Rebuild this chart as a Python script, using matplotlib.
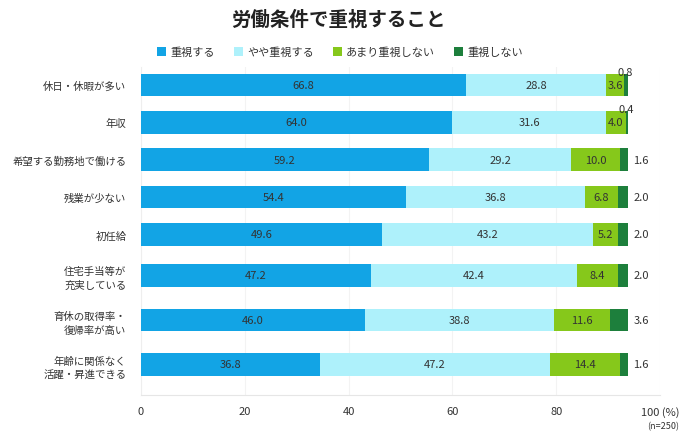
import numpy as np
import matplotlib.pyplot as plt

plt.rcParams['font.family'] = ['Noto Sans CJK JP', 'DejaVu Sans']

# data
items = ["休日・休暇が多い", "年収", "希望する勤務地で働ける", "残業が少ない", "初任給",
         "住宅手当等が\n充実している", "育休の取得率・\n復帰率が高い", "年齢に関係なく\n活躍・昇進できる"]
series_names = ["重視する", "やや重視する", "あまり重視しない", "重視しない"]
very_important = [66.8, 64.0, 59.2, 54.4, 49.6, 47.2, 46.0, 36.8]
somewhat_important = [28.8, 31.6, 29.2, 36.8, 43.2, 42.4, 38.8, 47.2]
not_very_important = [3.6, 4.0, 10.0, 6.8, 5.2, 8.4, 11.6, 14.4]
not_important = [0.8, 0.4, 1.6, 2.0, 2.0, 2.0, 3.6, 1.6]
tick_values = [0, 20, 40, 60, 80, 100]
tick_labels = ["0", "20", "40", "60", "80", "100 (%)"]

colors = ["#12a4e5", "#aef1fb", "#86c81b", "#1d7f3c"]
text_color = "#333333"

# the original draws the 100% bar a bit shorter than the 100 tick
axis_max = 100 / 0.9375

# row positions: two-line labels get a bit more room
n_lines = [s.count("\n") + 1 for s in items]
ypos = [0.0]
for i in range(1, len(items)):
    ypos.append(ypos[-1] + 30.1 + 3.6 * (n_lines[i - 1] + n_lines[i]))
ypos = np.array(ypos)

fig = plt.figure(figsize=(6.8, 4.39), dpi=100)
ax = fig.add_axes([141 / 680, 43 / 439, 519 / 680, 328 / 439])

data = [very_important, somewhat_important, not_very_important, not_important]
left = np.zeros(len(items))
for k, (vals, name) in enumerate(zip(data, series_names)):
    vals = np.array(vals)
    ax.barh(ypos, vals, left=left, height=22.5, color=colors[k], label=name, zorder=3)
    for i, v in enumerate(vals):
        if k < 3:
            ax.text(left[i] + v / 2, ypos[i], f"{v:.1f}", ha="center", va="center",
                    fontsize=8, color=text_color, zorder=4)
        elif v < 1:
            ax.text(left[i] + v / 2, ypos[i] - 13, f"{v:.1f}", ha="center", va="center",
                    fontsize=8, color=text_color, zorder=4)
        else:
            ax.text(left[i] + v + 1.2, ypos[i], f"{v:.1f}", ha="left", va="center",
                    fontsize=8, color=text_color, zorder=4)
    left += vals

ax.set_xlim(0, axis_max)
ax.set_ylim(ypos[-1] + 30.5, -18)
ax.set_xticks(np.array(tick_values) * axis_max / 100)
ax.set_xticklabels(tick_labels, fontsize=8, color=text_color)
ax.set_yticks(ypos)
ax.set_yticklabels(items, fontsize=7.5, color=text_color, linespacing=1.45)
ax.tick_params(axis="both", length=0)
ax.tick_params(axis="x", pad=8)
ax.tick_params(axis="y", pad=10.5)
ax.grid(axis="x", color="#f3f3f3", linewidth=0.8, zorder=0)
for side in ["top", "right"]:
    ax.spines[side].set_visible(False)
ax.spines["left"].set_color("#eeeeee")
ax.spines["bottom"].set_color("#e6e6e6")

fig.text(0.497, 0.955, "労働条件で重視すること", ha="center", va="center",
         fontsize=14, fontweight="bold", color="#222222")
fig.legend(loc="center", bbox_to_anchor=(0.5, 1 - 53 / 439), ncol=4, frameon=False,
           fontsize=8, handlelength=0.8, handleheight=0.8, handletextpad=0.4,
           columnspacing=1.7, labelcolor=text_color)
fig.text(679 / 680, 1 - 427 / 439, "(n=250)", ha="right", va="center",
         fontsize=6.5, color=text_color)

fig.savefig("out.png", dpi=100)
